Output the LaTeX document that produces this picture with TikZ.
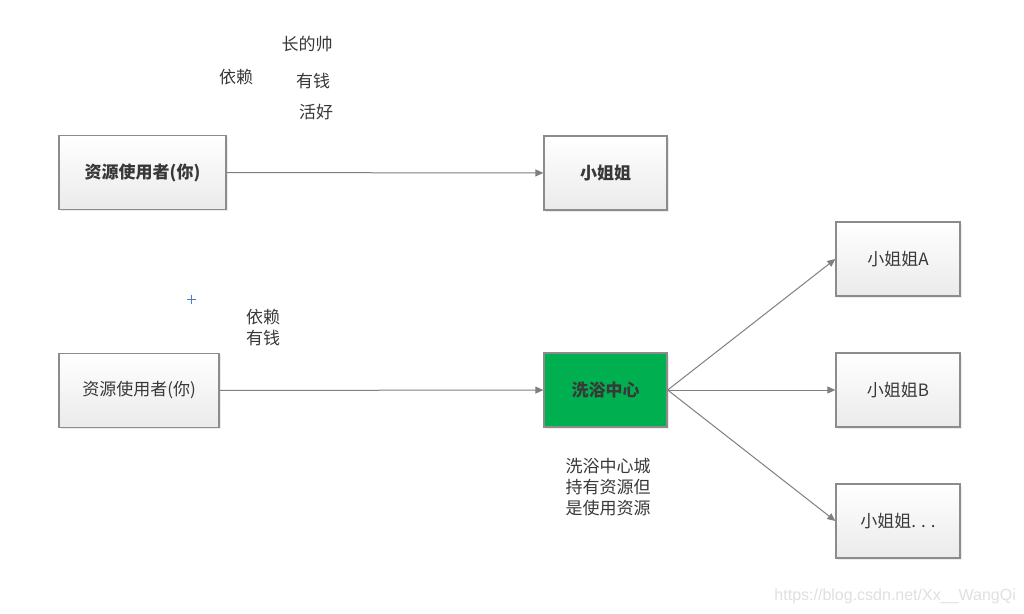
\documentclass[tikz,border=0pt]{standalone}
\usepackage{fontspec}
\setmainfont{Liberation Sans}
\newfontfamily\cjk{Noto Sans CJK SC}
\usetikzlibrary{arrows.meta,shadows}
\definecolor{boxline}{HTML}{8C8C8C}
\definecolor{arrline}{HTML}{7F7F7F}
\definecolor{greenfill}{HTML}{00B050}
\definecolor{txt}{HTML}{383838}
\definecolor{plusblue}{HTML}{4A7EC8}
\begin{document}
\begin{tikzpicture}[x=1pt,y=-1pt,
  box/.style={draw=boxline,line width=1.3pt,top color=white,bottom color=black!8,
    minimum height=74pt,inner sep=0pt,font=\cjk\fontsize{17}{20}\selectfont,text=txt,
    drop shadow={shadow xshift=1.5pt,shadow yshift=-1.5pt,opacity=0.15}},
  bbox/.style={box,font=\cjk\bfseries\fontsize{17}{20}\selectfont},
  lbl/.style={font=\cjk\fontsize{17}{21}\selectfont,text=txt,align=center,inner sep=0pt},
  conn/.style={draw=arrline,line width=1pt,-{Triangle[length=8pt,width=7pt]}}]
\useasboundingbox (0,0) rectangle (1024,613);
\fill[white] (0,0) rectangle (1024,613);
% top row
\node[bbox,minimum width=167pt] (u1) at (142.5,172.5) {资源使用者(你)};
\node[bbox,minimum width=123pt] (g) at (605.5,173) {小姐姐};
\draw[conn] (u1) -- (g);
\node[lbl] (l1) at (307,44) {长的帅};
\node[lbl] (l2) at (236,77) {依赖};
\node[lbl] (l3) at (313,81) {有钱};
\node[lbl] (l4) at (316,112) {活好};
% bottom row
\node[box,minimum width=160pt] (u2) at (139,390.5) {资源使用者(你)};
\node[bbox,minimum width=123pt,top color=greenfill,bottom color=greenfill] (c) at (605.5,390) {洗浴中心};
\draw[conn] (u2) -- (c);
\node[lbl] (l5) at (263,328) {依赖\\有钱};
\node[lbl] (l6) at (608,487) {洗浴中心城\\持有资源但\\是使用资源};
\node[box,minimum width=124pt] (a) at (898,259) {小姐姐A};
\node[box,minimum width=124pt] (b) at (898,390) {小姐姐B};
\node[box,minimum width=124pt] (d) at (898,521) {小姐姐. . .};
\draw[conn] (c.east) -- (a.west);
\draw[conn] (c.east) -- (b.west);
\draw[conn] (c.east) -- (d.west);
% blue plus marker
\draw[plusblue,line width=1pt] (187,299) -- (196,299) (191.5,294.5) -- (191.5,303.5);
% watermark
\node[font=\fontsize{16}{18}\selectfont,text=black!12,anchor=east,inner sep=0pt] (wm) at (1016,596) {https://blog.csdn.net/Xx\_\_WangQi};
\end{tikzpicture}
\end{document}
